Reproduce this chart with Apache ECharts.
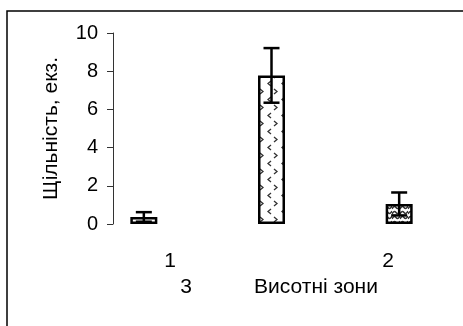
<!DOCTYPE html>
<html>
<head>
<meta charset="utf-8">
<script src="https://cdn.jsdelivr.net/npm/echarts@6/dist/echarts.min.js"></script>
<style>html,body{margin:0;padding:0;background:#fff;}#c{width:463px;height:326px;}</style>
</head>
<body>
<div id="c"></div>
<script>
const categories = ['a', 'b', 'c'];
const means = [0.37, 7.78, 1.05];
const errors = [0.25, 1.43, 0.6];
const zoneLabels = ['1', '3', '2'];
const yTicks = [0, 2, 4, 6, 8, 10];
const yTitle = 'Щільність, екз.';
const xTitle = 'Висотні зони';

function makeDots() {
  const c = document.createElement('canvas');
  c.width = 14; c.height = 16;
  const g = c.getContext('2d');
  g.fillStyle = '#fff'; g.fillRect(0, 0, 14, 16);
  g.strokeStyle = '#333'; g.lineWidth = 1.3;
  g.beginPath(); g.moveTo(5, 1); g.lineTo(2, 3.5); g.lineTo(5, 6); g.stroke();
  g.beginPath(); g.moveTo(8, 9); g.lineTo(11, 11.5); g.lineTo(8, 14); g.stroke();
  return c;
}
function makeWaves() {
  const c = document.createElement('canvas');
  c.width = 8; c.height = 5;
  const g = c.getContext('2d');
  g.fillStyle = '#fff'; g.fillRect(0, 0, 8, 5);
  g.strokeStyle = '#333'; g.lineWidth = 1.5;
  g.beginPath(); g.moveTo(0, 4); g.quadraticCurveTo(2, 0, 4, 2.5); g.quadraticCurveTo(6, 5, 8, 1); g.stroke();
  return c;
}
const fills = ['#ffffff', { image: makeDots(), repeat: 'repeat' }, { image: makeWaves(), repeat: 'repeat' }];

const chart = echarts.init(document.getElementById('c'), null, { renderer: 'canvas' });
const font = '"Liberation Sans", Arial, sans-serif';
chart.setOption({
  animation: false,
  grid: { left: 80, width: 400, top: 33, bottom: 102, containLabel: false },
  xAxis: {
    type: 'category', data: categories,
    axisLine: { show: false }, axisTick: { show: false }, axisLabel: { show: false }
  },
  yAxis: {
    type: 'value', min: 0, max: 10, interval: 2, offset: -33,
    splitLine: { show: false },
    axisLine: { show: true, lineStyle: { color: '#333', width: 1 } },
    axisTick: { show: true, length: 6, lineStyle: { color: '#333' } },
    axisLabel: { color: '#000', fontSize: 20, fontFamily: 'Liberation Sans', margin: 15 },
    name: yTitle, nameLocation: 'middle', nameGap: 51, nameRotate: 90,
    nameTextStyle: { color: '#000', fontSize: 21, fontFamily: 'Liberation Sans' }
  },
  series: [
    {
      type: 'bar', barWidth: 27,
      data: means.map((v, i) => ({ value: v, itemStyle: { color: fills[i] } })),
      itemStyle: { borderColor: '#000', borderWidth: 2.5 }
    },
    {
      type: 'custom', z: 5,
      data: means.map((v, i) => [i, v, errors[i]]),
      renderItem: function (params, api) {
        const i = api.value(0), m = api.value(1), e = api.value(2);
        const top = api.coord([i, m + e]);
        const bot = api.coord([i, m - e]);
        const hw = 8;
        const st = { stroke: '#000', lineWidth: 2.5 };
        return {
          type: 'group',
          children: [
            { type: 'line', shape: { x1: top[0], y1: top[1], x2: bot[0], y2: bot[1] }, style: st },
            { type: 'line', shape: { x1: top[0] - hw, y1: top[1], x2: top[0] + hw, y2: top[1] }, style: st },
            { type: 'line', shape: { x1: bot[0] - hw, y1: bot[1], x2: bot[0] + hw, y2: bot[1] }, style: st }
          ]
        };
      }
    }
  ],
  graphic: [
    { type: 'rect', shape: { x: 7, y: 11, width: 470, height: 330 }, style: { fill: 'none', stroke: '#000', lineWidth: 1.5 }, silent: true },
    { type: 'text', x: 170, y: 261, style: { text: zoneLabels[0], font: '21px ' + font, fill: '#000', textAlign: 'center', textVerticalAlign: 'middle' } },
    { type: 'text', x: 186, y: 287, style: { text: zoneLabels[1], font: '21px ' + font, fill: '#000', textAlign: 'center', textVerticalAlign: 'middle' } },
    { type: 'text', x: 388, y: 261, style: { text: zoneLabels[2], font: '21px ' + font, fill: '#000', textAlign: 'center', textVerticalAlign: 'middle' } },
    { type: 'text', x: 316, y: 287, style: { text: xTitle, font: '21px ' + font, fill: '#000', textAlign: 'center', textVerticalAlign: 'middle' } }
  ]
});
</script>
</body>
</html>
